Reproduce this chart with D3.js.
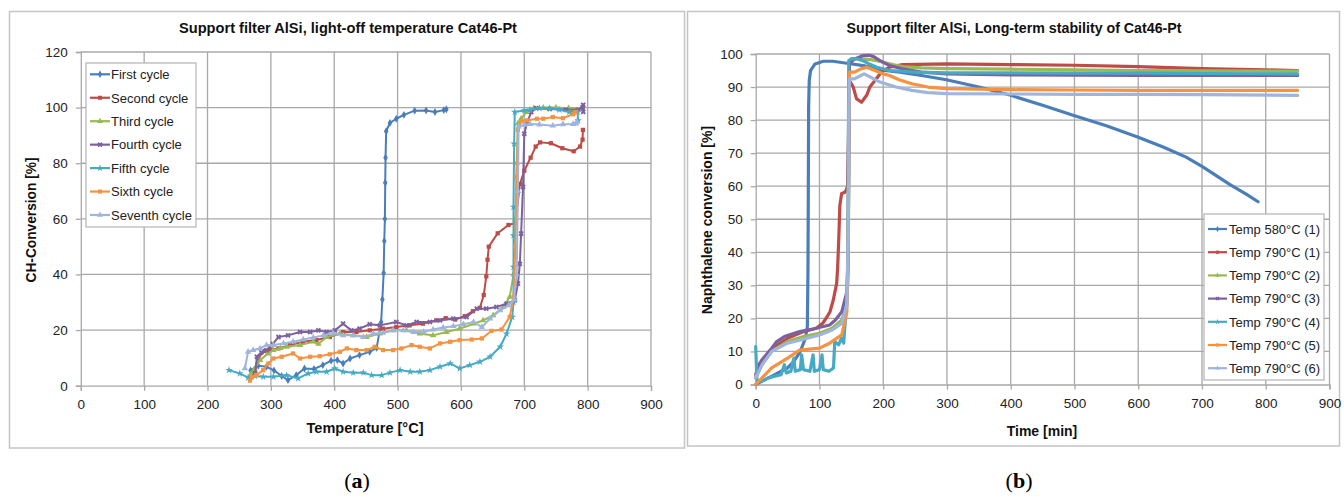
<!DOCTYPE html>
<html>
<head>
<meta charset="utf-8">
<script src="https://cdn.jsdelivr.net/npm/d3@7"></script>
<style>
  html, body { margin: 0; padding: 0; background: #ffffff; }
  svg { display: block; }
</style>
</head>
<body>
<svg id="fig" width="1344" height="497"></svg>
<script>
// ---------- Panel (a): light-off temperature, [temperature °C, CH-conversion %] ----------
const cycleNames = ["First cycle", "Second cycle", "Third cycle", "Fourth cycle", "Fifth cycle", "Sixth cycle", "Seventh cycle"];

const firstCycle = [[268,5.5],[280,7.2],[293,6.8],[305,5.5],[317,3.5],[327,2.0],[340,3.8],[353,6.2],[368,6.0],[382,7.4],[395,9.0],[405,9.2],[414,8.0],[425,9.8],[440,11.0],[456,12.2],[467,13.6],[474,22.8],[476,31],[478,40.5],[479,52],[480,60],[480.5,73],[481,82],[482,91.5],[488,94.5],[498,96],[510,97.4],[527,98.9],[545,99],[559,98.4],[573,99.1],[577,99.4]];
const secondCycle = [[268,3],[275,5],[280,10],[290,12.5],[300,13],[312,13.4],[330,14.6],[351,15.8],[372,16.4],[393,17.5],[414,19.3],[435,19.3],[456,19.9],[477,20.5],[498,21.1],[519,21.7],[540,22.3],[561,23.5],[576,24.3],[591,23.8],[606,25],[619,26.8],[630,28],[636,32.6],[640,39.3],[642,45.3],[644,50],[658,54.8],[675,57.8],[686,58.5],[693,72.5],[700,77.3],[710,82],[718,86],[725,87.5],[742,87.2],[760,85.4],[778,84.3],[788,86],[792,88.5],[792.5,92]];
const thirdCycle = [[268,4],[274,6],[283,9.2],[295,11.5],[304,12.8],[315,13.5],[325,14],[346,14.6],[367,15.8],[375,15],[388,17.5],[409,18.7],[430,18.1],[451,17.5],[472,18.7],[493,19.9],[514,19.9],[535,18.7],[556,18.1],[577,19.3],[598,20.5],[620,22.3],[635,23.5],[651,25.3],[667,28.3],[677,31.9],[683,40],[686,60],[688,80],[690,94.3],[695,96],[703,98.4],[715,99.8],[730,100],[750,100],[770,99.8],[790,99.6]];
const fourthCycle = [[275,4.4],[278,10.4],[285,12],[293,12.8],[303,15],[312,17.5],[327,18.1],[346,19.3],[362,19.3],[375,19.9],[388,19.3],[401,19.9],[414,22.3],[427,19.9],[440,20.5],[456,22.1],[472,21.7],[498,22.9],[514,21.7],[530,22.9],[551,22.9],[567,23.5],[588,24.1],[609,24.7],[625,27.7],[640,27.7],[656,28.3],[672,29.5],[685,30.7],[690,36.7],[693,43.8],[695,54.7],[698,71.5],[700,90.6],[705,95],[711,98.4],[719,99.8],[740,99.5],[766,99.2],[785,99.2],[792,100.2],[793,101],[793,98.5]];
const fifthCycle = [[234,5.6],[251,4.4],[264,2.9],[275,3.5],[288,3.2],[304,3.2],[325,3.8],[343,2.6],[359,4.4],[372,5],[388,5],[401,6.2],[414,5],[430,4.7],[446,4.7],[459,3.8],[475,3.8],[488,4.7],[504,5.6],[520,5],[535,5],[551,5.6],[567,6.8],[583,8],[598,6.2],[614,7.4],[630,8.6],[646,10.4],[662,14],[672,18.7],[681,24.7],[683,30],[683,42.7],[683,54],[683,64.3],[684,87],[685,98.4],[700,99],[709,99.2],[724,99.8],[740,99.8],[755,99.2],[771,98.4],[784,98.4],[785,95.4]];
const sixthCycle = [[267,1.8],[270,3],[277,3.8],[288,5.6],[296,8],[304,9.8],[317,10.4],[335,11.6],[346,9.8],[362,10.4],[377,10.6],[393,11.3],[409,12.2],[420,13.4],[435,12.8],[451,12.8],[464,14],[477,12.8],[493,12.8],[506,13.4],[522,14.6],[535,14],[551,13.4],[567,15.2],[583,15.8],[598,16.4],[617,16.6],[633,17],[648,19.7],[664,20.2],[677,24.7],[683,31.9],[686,50],[688,75],[690,92],[695,95],[704,95.4],[720,96],[730,96],[745,96.6],[761,96.2],[777,97.6],[781,98.4]];
const seventhCycle = [[259,6.2],[264,12.2],[272,12.8],[283,13.4],[293,14.6],[304,14.6],[320,15.2],[335,15.8],[351,16.6],[367,17.3],[383,18.1],[398,19],[414,18.1],[430,18.1],[446,17.5],[462,18.7],[477,19],[493,19.9],[509,19.9],[525,19.3],[541,19.3],[556,20.2],[572,20.9],[588,21.4],[604,22.1],[620,22.9],[633,21.1],[646,24.1],[662,27.1],[675,28.9],[684,31],[688,40],[690,70],[691,93.2],[700,93.8],[709,94.1],[724,93.9],[745,93.5],[761,94],[777,94.1],[782,94.2],[783,95]];
const cycleData = [firstCycle, secondCycle, thirdCycle, fourthCycle, fifthCycle, sixthCycle, seventhCycle];

const tempTicks = [0,100,200,300,400,500,600,700,800,900];
const chTicks = [0,20,40,60,80,100,120];

// ---------- Panel (b): long-term stability, [time min, naphthalene conversion %] ----------
const runNames = ["Temp 580°C (1)", "Temp 790°C (1)", "Temp 790°C (2)", "Temp 790°C (3)", "Temp 790°C (4)", "Temp 790°C (5)", "Temp 790°C (6)"];

const run580_1 = [[0,0],[10,1],[20,2],[30,3],[40,4],[50,5],[60,7],[70,10],[78,14],[81,17.5],[82,35],[82.5,57.5],[83,84],[84,92],[86,95],[93,97],[106,97.8],[121,97.8],[143,97.2],[169,96.5],[195,95.2],[226,94.5],[260,93.5],[299,92.2],[350,90],[400,87.5],[450,84.5],[499,81.4],[550,78.3],[599,74.9],[640,71.8],[675,68.8],[700,66],[744,60.5],[770,57.5],[788,55.3]];
const run790_1 = [[0,2],[5,5],[15,8],[30,11.5],[50,14],[75,16],[95,17],[105,18.5],[112,20.5],[116.5,22],[121.6,25.5],[127,30.6],[128.6,35.6],[130.5,45.2],[132,54.2],[134.8,57.8],[140,58.2],[142,58.8],[144,60],[146,80],[147,92],[150,91],[153,90],[158,86.5],[166,85.4],[174,87.5],[179,90],[187,92],[197,94.5],[210,96],[230,96.8],[300,97],[400,96.8],[500,96.6],[600,96.2],[700,95.6],[800,95.2],[850,95]];
const run790_2 = [[0,2],[10,6],[25,10],[50,13],[75,14.5],[100,15.5],[120,17],[135,19.5],[143,24],[145,35],[146,60],[147,97],[150,98.5],[165,98.5],[180,98.3],[190,98],[200,97.5],[215,96.8],[230,96.2],[260,95.8],[300,95.6],[400,95.4],[500,95.2],[600,95],[700,94.9],[850,94.8]];
const run790_3 = [[0,3],[5,6],[10,7.5],[25,11],[33,13],[45,14.5],[69,16],[90,16.8],[116,18],[125,19.5],[135,22],[143,28],[145,40],[146,70],[147,97],[155,98.5],[168,99.5],[178,99.6],[185,99.2],[195,98],[210,96.5],[230,95.5],[260,94.5],[300,94],[400,93.7],[500,93.6],[600,93.5],[700,93.5],[850,93.5]];
const run790_4 = [[0,11.5],[2,1],[10,1],[20,2],[30,2.5],[40,3],[45,6],[48,3.5],[55,4],[60,8],[62,4],[70,4.5],[72,9],[75,4.5],[85,4],[90,9],[92,4],[100,4.5],[104,9],[106,4.5],[115,4],[122,5],[124,13],[130,12],[134.6,14],[138,12.5],[141,20.5],[144,30],[145,60],[146,98],[150,98.5],[160,98.5],[170,97.8],[180,96.8],[190,96],[210,95],[250,94.5],[300,94.3],[400,94.3],[500,94.2],[600,94.2],[700,94.1],[850,94]];
const run790_5 = [[0,0],[10,2],[25,5],[50,8],[69,10.4],[100,11],[116,12.5],[135,15],[143,22],[145,40],[146,80],[147,94.5],[155,94.5],[165,95.5],[174,96],[187,95],[200,94],[210,93.5],[225,92.2],[245,91],[270,90],[300,89.5],[400,89.2],[500,89.1],[600,89],[700,89],[850,89]];
const run790_6 = [[0,2],[10,6],[25,10],[50,12.5],[69,13.4],[100,15],[120,16.5],[135,18.5],[143,24],[145,45],[146,75],[147,92.5],[155,92.5],[170,94],[180,93],[195,91.5],[220,90],[245,89],[270,88.3],[300,88],[400,87.9],[500,87.8],[600,87.8],[700,87.7],[850,87.5]];
const runData = [run580_1, run790_1, run790_2, run790_3, run790_4, run790_5, run790_6];

const timeTicks = [0,100,200,300,400,500,600,700,800,900];
const naphTicks = [0,10,20,30,40,50,60,70,80,90,100];

// Office 2007 series palette
const palette = ["#4A7EBB", "#BE4B48", "#98B954", "#7D60A0", "#46AAC5", "#F69240", "#9FB5DD"];
const symbols = [d3.symbolDiamond, d3.symbolSquare, d3.symbolTriangle, d3.symbolCross, d3.symbolStar, d3.symbolSquare, d3.symbolTriangle];

const sans = "'Liberation Sans', Arial, sans-serif";
const svg = d3.select("#fig");
const gridColor = "#a8a8a8";
const frameColor = "#c4c4c4";

function label(g, opts) {
  const t = g.append("text").attr("text-anchor", "middle")
    .style("font-family", sans).style("font-size", opts.size + "px").style("font-weight", "bold")
    .attr("fill", "#111").text(opts.text);
  if (opts.rotate) t.attr("transform", `translate(${opts.x},${opts.y}) rotate(-90)`);
  else t.attr("x", opts.x).attr("y", opts.y);
  if (opts.len) t.attr("textLength", opts.len).attr("lengthAdjust", "spacingAndGlyphs");
  return t;
}

function panel(opts) {
  const g = svg.append("g");
  // outer chart frame
  g.append("rect").attr("x", opts.frame[0]).attr("y", opts.frame[1])
    .attr("width", opts.frame[2]).attr("height", opts.frame[3])
    .attr("fill", "#fff").attr("stroke", frameColor).attr("stroke-width", 1.5);

  const x = d3.scaleLinear().domain(opts.xDomain).range(opts.xRange);
  const y = d3.scaleLinear().domain(opts.yDomain).range(opts.yRange);

  // gridlines
  g.append("g").selectAll("line").data(opts.xTicks.slice(1)).join("line")
    .attr("x1", d => x(d)).attr("x2", d => x(d))
    .attr("y1", y(opts.yDomain[0])).attr("y2", y(opts.yDomain[1]))
    .attr("stroke", gridColor).attr("stroke-width", 1.3);
  g.append("g").selectAll("line").data(opts.yTicks.slice(1)).join("line")
    .attr("x1", x(opts.xDomain[0])).attr("x2", x(opts.xDomain[1]))
    .attr("y1", d => y(d)).attr("y2", d => y(d))
    .attr("stroke", gridColor).attr("stroke-width", 1.3);

  // axes
  const xAxis = d3.axisBottom(x).tickValues(opts.xTicks).tickSize(5).tickPadding(9).tickFormat(d3.format("d"));
  const yAxis = d3.axisLeft(y).tickValues(opts.yTicks).tickSize(5).tickPadding(8).tickFormat(d3.format("d"));
  const gx = g.append("g").attr("transform", `translate(0,${y(opts.yDomain[0])})`).call(xAxis);
  const gy = g.append("g").attr("transform", `translate(${x(opts.xDomain[0])},0)`).call(yAxis);
  [gx, gy].forEach(a => {
    a.select(".domain").attr("stroke", gridColor).attr("stroke-width", 1.3);
    a.selectAll(".tick line").attr("stroke", gridColor).attr("stroke-width", 1.3);
    a.selectAll(".tick text").attr("fill", "#222")
      .style("font-family", sans).style("font-size", "13.5px");
  });

  // titles
  label(g, { x: opts.titlePos[0], y: opts.titlePos[1], text: opts.title, size: 14, len: opts.titleLen });
  label(g, { x: opts.xLabelPos[0], y: opts.xLabelPos[1], text: opts.xLabel, size: 14, len: opts.xLabelLen });
  label(g, { x: opts.yLabelPos[0], y: opts.yLabelPos[1], text: opts.yLabel, size: 14, len: opts.yLabelLen, rotate: true });

  // series
  const line = d3.line().x(d => x(d[0])).y(d => y(d[1]));
  const plot = g.append("g");
  opts.data.forEach((series, i) => {
    plot.append("path").datum(series).attr("d", line)
      .attr("fill", "none").attr("stroke", palette[i])
      .attr("stroke-width", opts.lineWidth).attr("stroke-linejoin", "round").attr("stroke-linecap", "round");
    if (opts.markerSize > 0) {
      plot.append("g").selectAll("path").data(series).join("path")
        .attr("transform", d => `translate(${x(d[0])},${y(d[1])})` + (i === 3 ? " rotate(45)" : ""))
        .attr("d", d3.symbol().type(symbols[i]).size(opts.markerSize))
        .attr("fill", palette[i]);
    }
  });

  // legend
  const L = opts.legend;
  const lg = g.append("g");
  lg.append("rect").attr("x", L.box[0]).attr("y", L.box[1]).attr("width", L.box[2]).attr("height", L.box[3])
    .attr("fill", "#fff").attr("stroke", "#b4b4b4").attr("stroke-width", 1.2);
  opts.names.forEach((name, i) => {
    const yy = L.firstY + i * L.step;
    lg.append("line").attr("x1", L.lineX[0]).attr("x2", L.lineX[1]).attr("y1", yy).attr("y2", yy)
      .attr("stroke", palette[i]).attr("stroke-width", 2.2);
    lg.append("path").attr("transform", `translate(${(L.lineX[0] + L.lineX[1]) / 2},${yy})` + (i === 3 ? " rotate(45)" : ""))
      .attr("d", d3.symbol().type(symbols[i]).size(L.markerSize)).attr("fill", palette[i]);
    lg.append("text").attr("x", L.textX).attr("y", yy + 4.8).attr("fill", "#222")
      .style("font-family", sans).style("font-size", "13px").text(name);
  });
}

panel({
  frame: [9.5, 11.5, 675, 436.5],
  xDomain: [0, 900], xRange: [80.8, 651],
  yDomain: [0, 120], yRange: [385.7, 52],
  xTicks: tempTicks, yTicks: chTicks,
  title: "Support filter AlSi, light-off temperature Cat46-Pt", titlePos: [348, 33], titleLen: 338,
  xLabel: "Temperature [°C]", xLabelPos: [365, 433], xLabelLen: 117,
  yLabel: "CH-Conversion [%]", yLabelPos: [36, 220], yLabelLen: 125,
  data: cycleData, names: cycleNames,
  lineWidth: 2, markerSize: 18,
  legend: { box: [86, 63, 110, 164], firstY: 74.3, step: 23.45, lineX: [90, 110], textX: 111, markerSize: 16 }
});

panel({
  frame: [687.5, 11.5, 652, 434.5],
  xDomain: [0, 900], xRange: [755.7, 1329.5],
  yDomain: [0, 100], yRange: [384.5, 54],
  xTicks: timeTicks, yTicks: naphTicks,
  title: "Support filter AlSi, Long-term stability of Cat46-Pt", titlePos: [1014, 33], titleLen: 335,
  xLabel: "Time [min]", xLabelPos: [1042, 436],
  yLabel: "Naphthalene conversion [%]", yLabelPos: [712, 220],
  data: runData, names: runNames,
  lineWidth: 3.2, markerSize: 0,
  legend: { box: [1204, 214, 120, 166], firstY: 229, step: 23.2, lineX: [1208, 1227], textX: 1229, markerSize: 10 }
});

// panel captions
const captions = [["(", "a", ")", 357], ["(", "b", ")", 1019]];
captions.forEach(c => {
  const t = svg.append("text").attr("x", c[3]).attr("y", 488).attr("text-anchor", "middle")
    .style("font-family", "'Liberation Serif', 'DejaVu Serif', serif").style("font-size", "22px").attr("fill", "#000");
  t.append("tspan").text(c[0]);
  t.append("tspan").style("font-weight", "bold").text(c[1]);
  t.append("tspan").text(c[2]);
});
</script>
</body>
</html>
